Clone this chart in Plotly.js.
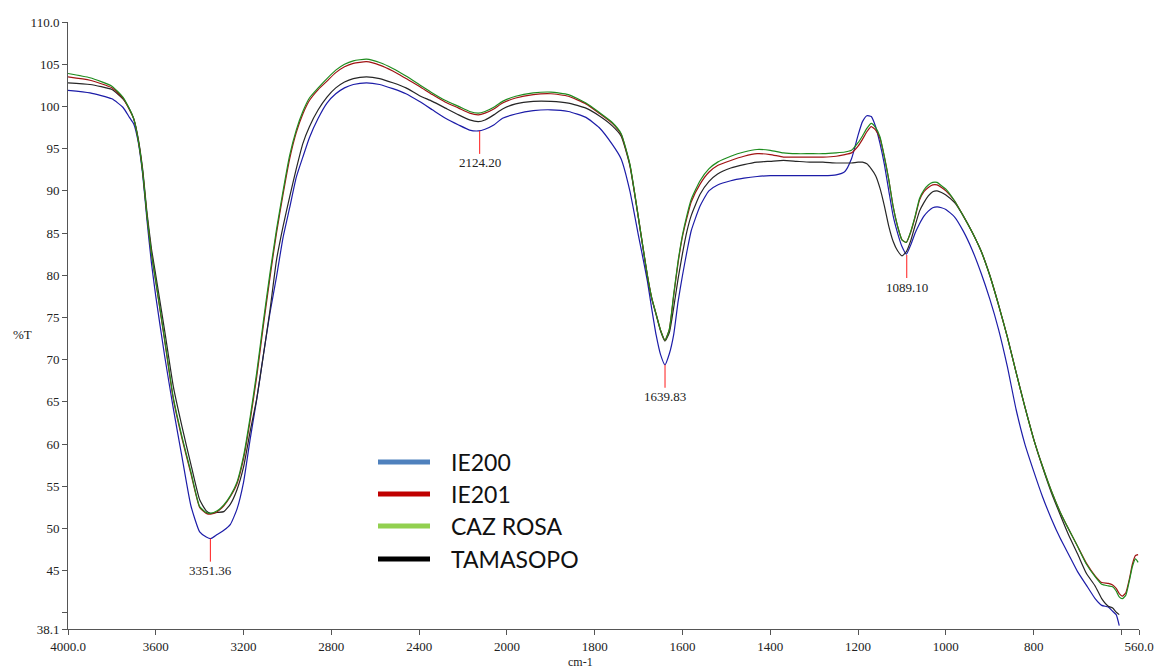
<!DOCTYPE html>
<html><head><meta charset="utf-8">
<script src="https://cdn.plot.ly/plotly-3.0.1.min.js"></script>
<style>html,body{margin:0;padding:0;background:#fff}#chart{width:1156px;height:672px}</style>
</head><body><div id="chart"></div>
<script>
// Wavenumber grid (cm-1)
const wavenumber = [4000,3900,3800,3750,3720,3700,3680,3660,3640,3620,3600,3560,3520,3480,3440,3400,3370,3350,3320,3290,3260,3230,3200,3170,3140,3110,3080,3050,3020,2990,2960,2930,2900,2860,2820,2780,2740,2700,2640,2580,2520,2460,2400,2340,2280,2220,2170,2130,2100,2060,2020,1980,1940,1900,1860,1820,1790,1760,1740,1720,1700,1690,1680,1670,1660,1650,1640,1630,1620,1610,1600,1590,1580,1560,1540,1520,1490,1460,1430,1400,1370,1340,1310,1280,1250,1230,1215,1200,1190,1180,1170,1160,1150,1140,1130,1120,1110,1100,1090,1080,1070,1060,1050,1040,1030,1020,1010,1000,980,960,940,920,900,880,860,840,820,800,780,760,740,720,700,680,660,645,630,620,612,605,598,590,582,575,568,562];

// %T values per sample
const ie200 = [101.9,101.6,100.9,99.9,98.7,97.9,95.8,92.0,86.5,81.5,77.5,70.5,64.2,58.4,52.7,49.6,49.0,48.8,49.3,49.8,50.5,52.3,55.5,60.6,65.3,70.5,75.5,79.8,84.5,88.0,91.6,94.0,96.3,98.6,100.4,101.5,102.2,102.6,102.8,102.6,102.1,101.5,100.6,99.6,98.6,97.8,97.2,97.1,97.3,97.8,98.6,99.1,99.5,99.6,99.4,98.7,97.5,95.5,93.8,90.0,84.6,82.0,79.3,76.0,72.9,70.6,69.4,70.7,73.0,76.9,80.0,82.8,85.3,88.2,90.0,90.7,91.2,91.5,91.7,91.8,91.8,91.8,91.8,91.8,91.9,92.3,93.8,96.6,98.2,98.9,98.8,97.6,95.6,93.1,90.0,87.0,85.0,83.4,82.5,83.6,85.0,86.1,87.0,87.6,88.0,88.1,88.0,87.8,86.9,85.2,83.0,80.3,77.2,73.6,69.2,64.1,60.0,56.8,53.8,51.2,48.9,46.9,44.9,43.3,41.7,40.9,40.7,40.2,39.8,38.5,null,null,null,null,null,null];

const ie201 = [103.5,103.1,102.2,101.0,99.6,98.5,96.0,92.3,87.0,82.6,79.2,72.3,65.3,60.6,56.5,52.5,51.8,51.7,52.0,52.7,53.8,55.3,58.3,62.8,68.0,74.0,79.7,85.0,89.6,93.8,96.9,99.1,100.7,102.0,103.0,104.0,104.7,105.1,105.3,104.9,104.2,103.3,102.4,101.4,100.5,99.8,99.2,99.0,99.2,99.7,100.4,101.0,101.4,101.5,101.2,100.3,99.2,98.0,96.7,93.1,86.7,83.3,80.0,77.3,75.4,73.5,72.3,73.6,77.6,81.5,84.6,86.8,88.7,90.8,92.2,93.0,93.6,94.1,94.4,94.3,94.0,94.0,94.0,94.0,94.1,94.3,94.5,95.3,96.1,97.0,97.6,97.2,96.2,94.0,91.3,88.1,85.8,84.2,83.9,85.1,86.9,88.9,89.9,90.4,90.7,90.7,90.4,90.0,88.8,87.0,85.1,82.9,80.0,76.5,72.7,68.5,64.4,60.6,57.4,54.5,52.0,49.9,47.9,45.9,44.4,43.6,43.5,43.3,42.9,42.3,42.0,42.4,44.0,45.8,46.8,46.9];

const cazRosa = [103.9,103.4,102.4,101.1,99.7,98.5,96.0,92.3,87.0,82.6,79.3,72.5,65.5,60.8,56.7,52.6,51.9,51.8,52.1,52.8,53.9,55.5,58.6,63.2,68.5,74.5,80.2,85.4,90.0,94.2,97.2,99.4,101.0,102.2,103.3,104.3,105.0,105.4,105.6,105.2,104.5,103.6,102.6,101.6,100.7,100.0,99.4,99.2,99.4,99.9,100.6,101.2,101.6,101.7,101.4,100.4,99.3,98.1,96.8,93.2,86.7,83.3,80.0,77.3,75.4,73.5,72.3,73.6,77.8,81.7,84.8,87.1,89.0,91.2,92.6,93.4,94.1,94.6,94.9,94.8,94.5,94.4,94.4,94.4,94.5,94.6,94.8,95.7,96.5,97.4,98.0,97.5,96.4,94.0,91.3,88.1,85.8,84.2,83.9,85.2,87.0,89.1,90.1,90.7,91.0,91.0,90.6,90.2,88.8,87.0,85.1,82.9,80.0,76.5,72.7,68.5,64.4,60.6,57.4,54.5,52.0,49.9,47.9,45.8,44.3,43.4,43.2,43.1,42.6,41.9,41.7,42.1,43.8,45.5,46.4,46.0];

const tamasopo = [102.8,102.6,102.0,100.9,99.7,98.5,96.2,92.6,87.4,83.2,80.0,73.5,66.8,62.0,57.6,53.4,52.1,51.8,51.9,52.0,52.9,54.6,57.3,61.5,65.4,70.5,75.8,81.8,85.8,89.3,92.6,95.6,97.6,99.6,101.1,102.2,102.9,103.3,103.5,103.3,102.8,102.2,101.3,100.6,99.8,99.0,98.4,98.2,98.4,99.0,99.7,100.3,100.6,100.6,100.4,99.8,98.9,97.7,96.5,93.0,86.6,83.2,79.9,77.2,75.3,73.4,72.2,73.2,76.2,79.6,82.6,85.2,87.1,89.6,91.1,92.0,92.7,93.1,93.4,93.5,93.6,93.5,93.4,93.4,93.3,93.3,93.3,93.4,93.4,93.2,92.6,91.8,90.3,88.2,85.8,84.0,82.9,82.3,82.8,84.1,85.9,87.6,88.6,89.4,89.9,90.0,89.8,89.5,88.6,87.0,85.1,82.9,80.0,76.5,72.7,68.5,64.4,60.6,57.3,54.3,51.7,49.2,47.0,44.7,43.2,41.7,40.8,40.6,40.1,39.8,null,null,null,null,null,null];

const seriesNames = ['IE200', 'IE201', 'CAZ ROSA', 'TAMASOPO'];
const seriesValues = [ie200, ie201, cazRosa, tamasopo];
const lineColors = ['#1c1ca8', '#a01414', '#1e8c1e', '#262626'];
const legendColors = ['#4f81bd', '#c00000', '#92d050', '#000000'];

// Peak markers
const peakWn = [3351.36, 2124.20, 1639.83, 1089.10];
const peakT = [48.8, 97.1, 69.4, 82.4];
const peakLabels = ['3351.36', '2124.20', '1639.83', '1089.10'];

// Axis ticks
const xTickWn = [4000, 3600, 3200, 2800, 2400, 2000, 1800, 1600, 1400, 1200, 1000, 800, 600, 560];
const xTickText = ['4000.0', '3600', '3200', '2800', '2400', '2000', '1800', '1600', '1400', '1200', '1000', '800', '', '560.0'];
const yTickVals = [38.1, 40, 45, 50, 55, 60, 65, 70, 75, 80, 85, 90, 95, 100, 105, 110];
const yTickText = ['38.1', '', '45', '50', '55', '60', '65', '70', '75', '80', '85', '90', '95', '100', '105', '110.0'];

// FTIR display scale: 4000-2000 compressed by 2 relative to 2000-560
function toAxis(wn) { return wn >= 2000 ? (4000 - wn) / 2 : 1000 + (2000 - wn); }

const W = 1156, H = 672, L = 68, R = 17, T = 22, B = 43;
const pw = W - L - R, ph = H - T - B;
const px = x => (x - L) / pw;
const py = y => (H - B - y) / ph;

const serif = '"Liberation Serif", "Times New Roman", serif';

const traces = seriesValues.map((vals, i) => ({
  type: 'scatter', mode: 'lines', name: seriesNames[i],
  x: wavenumber.map(toAxis), y: vals,
  line: { color: lineColors[i], width: 1.2, shape: 'spline', smoothing: 0.5 },
  connectgaps: false, showlegend: false, hoverinfo: 'skip'
}));
// draw order: blue, black, red, green on top
const ordered = [traces[0], traces[3], traces[1], traces[2]];

const shapes = [];
const annotations = [];

peakWn.forEach((wn, i) => {
  annotations.push({
    x: toAxis(wn), y: peakT[i], xref: 'x', yref: 'y',
    text: peakLabels[i], showarrow: true, arrowhead: 0, arrowwidth: 1,
    arrowcolor: '#ff1a1a', ax: 0, ay: 32, standoff: 0,
    font: { family: serif, size: 13, color: '#222' }
  });
});

const legendY = [462, 494, 526, 559];
seriesNames.forEach((name, i) => {
  shapes.push({
    type: 'line', xref: 'paper', yref: 'paper',
    x0: px(378), x1: px(430), y0: py(legendY[i]), y1: py(legendY[i]),
    line: { color: legendColors[i], width: 5 }
  });
  annotations.push({
    xref: 'paper', yref: 'paper', x: px(449), y: py(legendY[i]),
    xanchor: 'left', yanchor: 'middle', showarrow: false, text: name,
    font: { family: 'Lato, Carlito, Calibri, sans-serif', size: 23, color: '#111' }
  });
});

annotations.push({
  xref: 'paper', yref: 'paper', x: px(22), y: py(334), xanchor: 'center', yanchor: 'middle',
  showarrow: false, text: '%T', font: { family: serif, size: 13, color: '#222' }
});
annotations.push({
  xref: 'paper', yref: 'paper', x: px(580), y: py(671), xanchor: 'center', yanchor: 'bottom',
  showarrow: false, text: 'cm-1', font: { family: serif, size: 12, color: '#222' }
});

const layout = {
  width: W, height: H,
  margin: { l: L, r: R, t: T, b: B, pad: 0 },
  paper_bgcolor: '#fff', plot_bgcolor: '#fff',
  showlegend: false, hovermode: false,
  xaxis: {
    range: [toAxis(4000), toAxis(560)], tickmode: 'array',
    tickvals: xTickWn.map(toAxis), ticktext: xTickText,
    showgrid: false, zeroline: false, showline: true, linecolor: '#555', linewidth: 1,
    ticks: 'outside', ticklen: 5, tickcolor: '#555', tickwidth: 1,
    tickfont: { family: serif, size: 13, color: '#222' }
  },
  yaxis: {
    range: [38.1, 110], tickmode: 'array', tickvals: yTickVals, ticktext: yTickText,
    showgrid: false, zeroline: false, showline: true, linecolor: '#555', linewidth: 1,
    ticks: 'outside', ticklen: 5, tickcolor: '#555', tickwidth: 1,
    tickfont: { family: serif, size: 13, color: '#222' }
  },
  shapes: shapes,
  annotations: annotations
};

Plotly.newPlot('chart', ordered, layout, { displayModeBar: false, staticPlot: true });
</script>
</body></html>
